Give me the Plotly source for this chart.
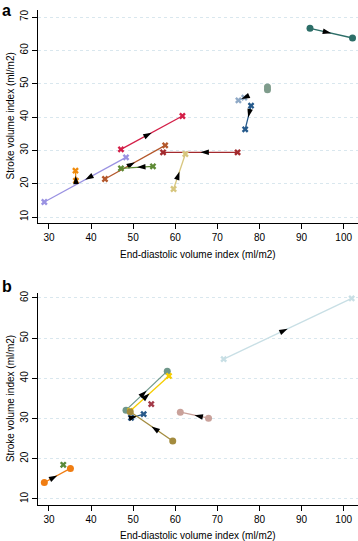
import plotly.graph_objects as go
import math

# ---------------- Panel a data (EDVI, SVI) ----------------
A_START_EDVI = [92.0, 81.9, 76.4, 78.0, 47.1, 48.3, 36.4, 43.3, 54.7, 74.8, 59.6]
A_START_SVI  = [66.6, 48.2, 45.8, 43.4, 30.3, 27.9, 20.9, 21.4, 25.2, 29.4, 18.4]
A_END_EDVI   = [102.1, 81.9, 75.0, 76.6, 61.7, 28.9, 36.3, 57.6, 47.1, 57.1, 62.4]
A_END_SVI    = [63.7, 49.0, 45.0, 36.3, 40.3, 14.5, 23.9, 31.5, 24.6, 29.4, 28.9]

# ---------------- Panel b data ----------------
B_START_EDVI = [71.5, 48.3, 49.3, 54.3, 49.5, 59.4, 67.9, 28.9, 33.4]
B_START_SVI  = [44.8, 32.1, 31.9, 33.6, 30.2, 24.4, 30.1, 14.1, 18.5]
B_END_EDVI   = [101.9, 58.1, 58.5, None, 52.5, 49.3, 61.2, 35.1, None]
B_END_SVI    = [59.9, 41.8, 40.6, None, 31.1, 31.7, 31.6, 17.6, None]

X_TICKS = [30, 40, 50, 60, 70, 80, 90, 100]
A_Y_TICKS = [10, 20, 30, 40, 50, 60, 70]
B_Y_TICKS = [10, 20, 30, 40, 50, 60]
X_TITLE = "End-diastolic volume index (ml/m2)"
Y_TITLE = "Stroke volume index (ml/m2)"

# ---------------- styles ----------------
A_COLORS = ["#2d6e68", "#7f9c8c", "#8fa9c6", "#265a8c", "#d41f48", "#9a92e2",
            "#f08a0a", "#b4582c", "#5e8a35", "#a32a2e", "#d7c67e"]
A_SYMBOLS = ["circle", "circle", "x", "x", "x", "x", "x", "x", "x", "x", "x"]
B_COLORS = ["#c8dfe5", "#6f978a", "#f6cd00", "#a33a48", "#28598a", "#a38b3e",
            "#c9a19a", "#f07d12", "#5b8a3a"]
B_SYMBOLS = ["x", "circle", "x", "x", "x", "circle", "circle", "circle", "x"]

FONT = "Liberation Sans, Arial, sans-serif"

fig = go.Figure()


def add_panel(sx, sy, ex, ey, colors, symbols, xa, ya, yscale):
    for i in range(len(sx)):
        xs = [sx[i]] if ex[i] is None else [sx[i], ex[i]]
        ys = [sy[i]] if ey[i] is None else [sy[i], ey[i]]
        sym = symbols[i]
        size = 7 if sym == "circle" else 6
        fig.add_trace(go.Scatter(
            x=xs, y=ys, mode="lines+markers", xaxis=xa, yaxis=ya,
            line=dict(color=colors[i], width=1.3),
            marker=dict(symbol=sym, size=size, color=colors[i],
                        line=dict(width=0)),
            showlegend=False, hoverinfo="skip"))
        if ex[i] is not None:
            dxp = (ex[i] - sx[i]) * 4.21
            dyp = (ey[i] - sy[i]) * yscale
            if math.hypot(dxp, dyp) < 6:
                continue
            mx = (sx[i] + ex[i]) / 2
            my = (sy[i] + ey[i]) / 2
            fig.add_trace(go.Scatter(
                x=[sx[i], mx], y=[sy[i], my], mode="markers",
                xaxis=xa, yaxis=ya,
                marker=dict(symbol="arrow", size=[0, 9], color="black",
                            opacity=[0, 1], angleref="previous",
                            line=dict(width=0)),
                showlegend=False, hoverinfo="skip"))


add_panel(A_START_EDVI, A_START_SVI, A_END_EDVI, A_END_SVI,
          A_COLORS, A_SYMBOLS, "x", "y", 3.33)
add_panel(B_START_EDVI, B_START_SVI, B_END_EDVI, B_END_SVI,
          B_COLORS, B_SYMBOLS, "x2", "y2", 4.02)

axis_common = dict(showline=True, linecolor="black", linewidth=1,
                   ticks="outside", ticklen=5, tickcolor="black",
                   tickfont=dict(size=10, color="black", family=FONT),
                   zeroline=False, mirror=False, automargin=False)

xa = dict(range=[27.4, 103.4], tickvals=X_TICKS, showgrid=False, **axis_common)
grid = dict(showgrid=True, gridcolor="#d9e7ee", griddash="dot", gridwidth=1)
fig.update_layout(
    xaxis=dict(domain=[0, 1], anchor="y", **xa),
    xaxis2=dict(domain=[0, 1], anchor="y2", **xa),
    yaxis=dict(domain=[0.5697, 1], anchor="x", range=[8.2, 72.1],
               tickvals=A_Y_TICKS, tickangle=-90, **grid, **axis_common),
    yaxis2=dict(domain=[0, 0.4283], anchor="x2", range=[8.5, 61.24],
                tickvals=B_Y_TICKS, tickangle=-90, **grid, **axis_common),
    width=358, height=541,
    margin=dict(l=38, r=0, t=10, b=36, autoexpand=False),
    plot_bgcolor="white", paper_bgcolor="white",
    font=dict(family=FONT, color="black"),
)

ann = [
    dict(text=X_TITLE, x=0.5, y=0.507, xref="paper", yref="paper",
         xanchor="center", yanchor="middle", showarrow=False,
         font=dict(size=10)),
    dict(text=X_TITLE, x=0.5, y=-0.0626, xref="paper", yref="paper",
         xanchor="center", yanchor="middle", showarrow=False,
         font=dict(size=10)),
    dict(text=Y_TITLE, x=-0.0875, y=0.785, xref="paper", yref="paper",
         xanchor="center", yanchor="middle", showarrow=False, textangle=-90,
         font=dict(size=10)),
    dict(text=Y_TITLE, x=-0.0875, y=0.214, xref="paper", yref="paper",
         xanchor="center", yanchor="middle", showarrow=False, textangle=-90,
         font=dict(size=10)),
    dict(text="<b>a</b>", x=-0.097, y=0.9990, xref="paper", yref="paper",
         xanchor="center", yanchor="middle", showarrow=False,
         font=dict(size=16)),
    dict(text="<b>b</b>", x=-0.097, y=0.4424, xref="paper", yref="paper",
         xanchor="center", yanchor="middle", showarrow=False,
         font=dict(size=16)),
]
fig.update_layout(annotations=ann)

fig.write_html("out.html",
               config={"displayModeBar": False, "staticPlot": True},
               post_script="document.body.style.margin='0';"
                           "document.body.style.overflow='hidden';")
